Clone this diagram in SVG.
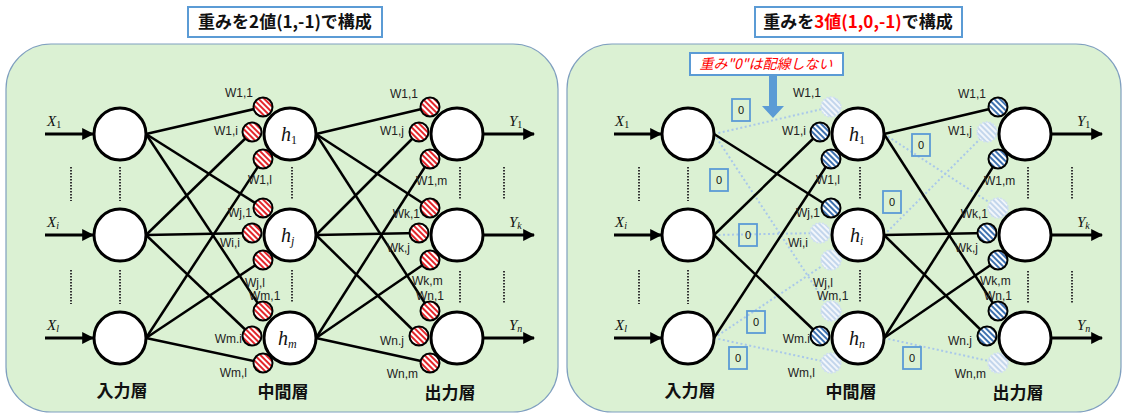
<svg xmlns="http://www.w3.org/2000/svg" width="1126" height="415" viewBox="0 0 1126 415">
<defs>
<pattern id="red" patternUnits="userSpaceOnUse" width="4" height="4" patternTransform="rotate(-45)"><rect width="4" height="4" fill="#fff"/><rect width="2" height="4" fill="#e3262b"/></pattern>
<pattern id="blue" patternUnits="userSpaceOnUse" width="4" height="4" patternTransform="rotate(-45)"><rect width="4" height="4" fill="#fff"/><rect width="2" height="4" fill="#3f72b0"/></pattern>
<pattern id="fade" patternUnits="userSpaceOnUse" width="4" height="4" patternTransform="rotate(-45)"><rect width="4" height="4" fill="#f2f6fb"/><rect width="2" height="4" fill="#c3d6ec"/></pattern>
<marker id="ah" viewBox="0 0 10 10" refX="9" refY="5" markerWidth="4" markerHeight="4" orient="auto" markerUnits="strokeWidth"><path d="M0,0 L10,5 L0,10 z" fill="#000"/></marker>
</defs>
<style>
.panel{fill:#dbf1d3;stroke:#7f9fbf;stroke-width:1.2}
.node{fill:#fff;stroke:#000;stroke-width:3}
.wr{fill:url(#red);stroke:#000;stroke-width:2}
.wb{fill:url(#blue);stroke:#000;stroke-width:2}
.wf{fill:url(#fade);stroke:#d0e0f2;stroke-width:1.5;stroke-dasharray:2 1.5}
.ln{stroke:#000;stroke-width:2.5;fill:none}
.zl{stroke:#a9c8ea;stroke-width:2;stroke-dasharray:2 2.5;fill:none}
.arr{stroke:#000;stroke-width:3;fill:none;marker-end:url(#ah)}
.dot{stroke:#333;stroke-width:2;stroke-dasharray:1.5 1.5}
.w{font-family:"Liberation Sans","Noto Sans",sans-serif;font-size:12px;fill:#222}
.m{font-family:"Liberation Serif",serif;font-style:italic;font-size:15px;fill:#111}
.h{font-family:"Liberation Serif",serif;font-style:italic;font-size:20px;fill:#111}
.up{font-style:normal}
.t{font-family:"Noto Sans CJK JP",sans-serif;font-weight:bold;font-size:17px;fill:#111}
.lay{font-family:"Noto Sans CJK JP",sans-serif;font-weight:bold;font-size:17px;fill:#111;text-anchor:middle}
.box{fill:#fff;stroke:#5b9bd5;stroke-width:2}
.zb{fill:none;stroke:#5b9bd5;stroke-width:1.8}
.z{font-family:"Liberation Sans",sans-serif;font-size:11px;fill:#111;text-anchor:middle}
</style>

<g id="titles">
<rect class="box" x="188" y="7" width="194" height="30"/>
<text class="t" x="285" y="28" text-anchor="middle">重みを2値(1,-1)で構成</text>
<rect class="box" x="755" y="7" width="207" height="30"/>
<text class="t" x="858" y="28" text-anchor="middle">重みを<tspan fill="#ff0000">3値(1,0,-1)</tspan>で構成</text>
</g>

<g id="panels">
<rect class="panel" x="6" y="44" width="552" height="368" rx="45"/>
<rect class="panel" x="567" y="44" width="554" height="368" rx="45"/>
</g>

<g id="connectors">
<line class="ln" x1="146" y1="134" x2="263" y2="107"/>
<line class="ln" x1="146" y1="134" x2="263" y2="208"/>
<line class="ln" x1="146" y1="134" x2="263" y2="311"/>
<line class="ln" x1="146" y1="235" x2="252" y2="132"/>
<line class="ln" x1="146" y1="235" x2="252" y2="233"/>
<line class="ln" x1="146" y1="235" x2="252" y2="336"/>
<line class="ln" x1="146" y1="338" x2="263" y2="159"/>
<line class="ln" x1="146" y1="338" x2="263" y2="260"/>
<line class="ln" x1="146" y1="338" x2="263" y2="363"/>
<line class="ln" x1="316" y1="134" x2="430" y2="107"/>
<line class="ln" x1="316" y1="134" x2="430" y2="208"/>
<line class="ln" x1="316" y1="134" x2="430" y2="311"/>
<line class="ln" x1="316" y1="235" x2="419" y2="132"/>
<line class="ln" x1="316" y1="235" x2="419" y2="233"/>
<line class="ln" x1="316" y1="235" x2="419" y2="336"/>
<line class="ln" x1="316" y1="338" x2="430" y2="159"/>
<line class="ln" x1="316" y1="338" x2="430" y2="260"/>
<line class="ln" x1="316" y1="338" x2="430" y2="363"/>
<line class="zl" x1="714" y1="134" x2="831" y2="107"/>
<line class="zl" x1="714" y1="134" x2="831" y2="311"/>
<line class="zl" x1="714" y1="235" x2="820" y2="233"/>
<line class="zl" x1="714" y1="338" x2="831" y2="260"/>
<line class="zl" x1="714" y1="338" x2="831" y2="363"/>
<line class="zl" x1="884" y1="134" x2="998" y2="208"/>
<line class="zl" x1="884" y1="235" x2="987" y2="132"/>
<line class="zl" x1="884" y1="338" x2="998" y2="363"/>
<line class="ln" x1="714" y1="134" x2="831" y2="208"/>
<line class="ln" x1="714" y1="235" x2="820" y2="132"/>
<line class="ln" x1="714" y1="235" x2="820" y2="336"/>
<line class="ln" x1="714" y1="338" x2="831" y2="159"/>
<line class="ln" x1="884" y1="134" x2="998" y2="107"/>
<line class="ln" x1="884" y1="134" x2="998" y2="311"/>
<line class="ln" x1="884" y1="235" x2="987" y2="233"/>
<line class="ln" x1="884" y1="235" x2="987" y2="336"/>
<line class="ln" x1="884" y1="338" x2="998" y2="159"/>
<line class="ln" x1="884" y1="338" x2="998" y2="260"/>
<line class="arr" x1="45" y1="134" x2="93" y2="134"/>
<line class="arr" x1="45" y1="235" x2="93" y2="235"/>
<line class="arr" x1="45" y1="338" x2="93" y2="338"/>
<line class="arr" x1="483" y1="134" x2="534" y2="134"/>
<line class="arr" x1="483" y1="235" x2="534" y2="235"/>
<line class="arr" x1="483" y1="338" x2="534" y2="338"/>
<line class="arr" x1="614" y1="134" x2="661" y2="134"/>
<line class="arr" x1="614" y1="235" x2="661" y2="235"/>
<line class="arr" x1="614" y1="338" x2="661" y2="338"/>
<line class="arr" x1="1051" y1="134" x2="1102" y2="134"/>
<line class="arr" x1="1051" y1="235" x2="1102" y2="235"/>
<line class="arr" x1="1051" y1="338" x2="1102" y2="338"/>
</g>

<g id="ellipsis">
<line class="dot" x1="71" y1="167" x2="71" y2="201"/><line class="dot" x1="120" y1="167" x2="120" y2="201"/>
<line class="dot" x1="71" y1="270" x2="71" y2="304"/><line class="dot" x1="120" y1="270" x2="120" y2="304"/>
<line class="dot" x1="292" y1="167" x2="292" y2="199"/><line class="dot" x1="292" y1="270" x2="292" y2="302"/>
<line class="dot" x1="460" y1="167" x2="460" y2="199"/><line class="dot" x1="504" y1="167" x2="504" y2="199"/>
<line class="dot" x1="460" y1="271" x2="460" y2="303"/><line class="dot" x1="504" y1="271" x2="504" y2="303"/>
<line class="dot" x1="639" y1="167" x2="639" y2="201"/><line class="dot" x1="688" y1="167" x2="688" y2="201"/>
<line class="dot" x1="639" y1="270" x2="639" y2="304"/><line class="dot" x1="688" y1="270" x2="688" y2="304"/>
<line class="dot" x1="860" y1="167" x2="860" y2="199"/><line class="dot" x1="860" y1="270" x2="860" y2="302"/>
<line class="dot" x1="1028" y1="167" x2="1028" y2="199"/><line class="dot" x1="1072" y1="167" x2="1072" y2="199"/>
<line class="dot" x1="1028" y1="271" x2="1028" y2="303"/><line class="dot" x1="1072" y1="271" x2="1072" y2="303"/>
</g>

<g id="L-x1"><circle class="node" cx="120" cy="134" r="26"/><text class="m" x="47" y="126">X<tspan class="up" font-size="10" dy="2">1</tspan></text></g>
<g id="L-xi"><circle class="node" cx="120" cy="235" r="26"/><text class="m" x="47" y="227">X<tspan font-size="10" dy="2">i</tspan></text></g>
<g id="L-xl"><circle class="node" cx="120" cy="338" r="26"/><text class="m" x="47" y="330">X<tspan font-size="10" dy="2">l</tspan></text></g>

<g id="L-h1">
<circle class="wr" cx="263" cy="107" r="9.5"/><circle class="wr" cx="252" cy="132" r="9.5"/><circle class="wr" cx="263" cy="159" r="9.5"/>
<circle class="node" cx="290" cy="134" r="26"/>
<text class="h" x="281" y="141">h<tspan class="up" font-size="12" dy="3">1</tspan></text>
<text class="w" x="253" y="97" text-anchor="end">W1,1</text>
<text class="w" x="238" y="135" text-anchor="end">W1,i</text>
<text class="w" x="248" y="184">W1,l</text>
</g>
<g id="L-hj">
<circle class="wr" cx="263" cy="208" r="9.5"/><circle class="wr" cx="252" cy="233" r="9.5"/><circle class="wr" cx="263" cy="260" r="9.5"/>
<circle class="node" cx="290" cy="235" r="26"/>
<text class="h" x="281" y="242">h<tspan font-size="12" dy="3">j</tspan></text>
<text class="w" x="252" y="217" text-anchor="end">Wj,1</text>
<text class="w" x="240" y="247" text-anchor="end">Wi,i</text>
<text class="w" x="245" y="287">Wj,l</text>
</g>
<g id="L-hm">
<circle class="wr" cx="263" cy="311" r="9.5"/><circle class="wr" cx="252" cy="336" r="9.5"/><circle class="wr" cx="263" cy="363" r="9.5"/>
<circle class="node" cx="290" cy="338" r="26"/>
<text class="h" x="278" y="345">h<tspan font-size="12" dy="3">m</tspan></text>
<text class="w" x="249" y="300">Wm,1</text>
<text class="w" x="242" y="343" text-anchor="end">Wm.i</text>
<text class="w" x="247" y="377" text-anchor="end">Wm,l</text>
</g>

<g id="L-y1">
<circle class="wr" cx="430" cy="107" r="9.5"/><circle class="wr" cx="419" cy="132" r="9.5"/><circle class="wr" cx="430" cy="159" r="9.5"/>
<circle class="node" cx="457" cy="134" r="26"/>
<text class="m" x="509" y="126">Y<tspan class="up" font-size="10" dy="2">1</tspan></text>
<text class="w" x="418" y="98" text-anchor="end">W1,1</text>
<text class="w" x="404" y="135" text-anchor="end">W1,j</text>
<text class="w" x="416" y="185">W1,m</text>
</g>
<g id="L-yk">
<circle class="wr" cx="430" cy="208" r="9.5"/><circle class="wr" cx="419" cy="233" r="9.5"/><circle class="wr" cx="430" cy="260" r="9.5"/>
<circle class="node" cx="457" cy="235" r="26"/>
<text class="m" x="509" y="227">Y<tspan font-size="10" dy="2">k</tspan></text>
<text class="w" x="420" y="218" text-anchor="end">Wk,1</text>
<text class="w" x="410" y="252" text-anchor="end">Wk,j</text>
<text class="w" x="412" y="285">Wk,m</text>
</g>
<g id="L-yn">
<circle class="wr" cx="430" cy="311" r="9.5"/><circle class="wr" cx="419" cy="336" r="9.5"/><circle class="wr" cx="430" cy="363" r="9.5"/>
<circle class="node" cx="457" cy="338" r="26"/>
<text class="m" x="509" y="330">Y<tspan font-size="10" dy="2">n</tspan></text>
<text class="w" x="416" y="300">Wn,1</text>
<text class="w" x="404" y="345" text-anchor="end">Wn.j</text>
<text class="w" x="418" y="378" text-anchor="end">Wn,m</text>
</g>

<g id="L-layers">
<text class="lay" x="122" y="397">入力層</text>
<text class="lay" x="283" y="398">中間層</text>
<text class="lay" x="450" y="399">出力層</text>
</g>

<g id="R-x1"><circle class="node" cx="688" cy="134" r="26"/><text class="m" x="615" y="126">X<tspan class="up" font-size="10" dy="2">1</tspan></text></g>
<g id="R-xi"><circle class="node" cx="688" cy="235" r="26"/><text class="m" x="615" y="227">X<tspan font-size="10" dy="2">i</tspan></text></g>
<g id="R-xl"><circle class="node" cx="688" cy="338" r="26"/><text class="m" x="615" y="330">X<tspan font-size="10" dy="2">l</tspan></text></g>

<g id="R-h1">
<circle class="wf" cx="831" cy="107" r="10"/><circle class="wb" cx="820" cy="132" r="9.5"/><circle class="wb" cx="831" cy="159" r="9.5"/>
<circle class="node" cx="858" cy="134" r="26"/>
<text class="h" x="849" y="141">h<tspan class="up" font-size="12" dy="3">1</tspan></text>
<text class="w" x="821" y="97" text-anchor="end">W1,1</text>
<text class="w" x="806" y="135" text-anchor="end">W1,i</text>
<text class="w" x="816" y="184">W1,l</text>
</g>
<g id="R-hi">
<circle class="wb" cx="831" cy="208" r="9.5"/><circle class="wf" cx="820" cy="233" r="10"/><circle class="wf" cx="831" cy="260" r="10"/>
<circle class="node" cx="858" cy="235" r="26"/>
<text class="h" x="850" y="242">h<tspan font-size="12" dy="3">i</tspan></text>
<text class="w" x="820" y="217" text-anchor="end">Wj,1</text>
<text class="w" x="808" y="247" text-anchor="end">Wi,i</text>
<text class="w" x="813" y="287">Wj,l</text>
</g>
<g id="R-hn">
<circle class="wf" cx="831" cy="311" r="10"/><circle class="wb" cx="820" cy="336" r="9.5"/><circle class="wf" cx="831" cy="363" r="10"/>
<circle class="node" cx="858" cy="338" r="26"/>
<text class="h" x="849" y="345">h<tspan font-size="12" dy="3">n</tspan></text>
<text class="w" x="817" y="300">Wm,1</text>
<text class="w" x="810" y="343" text-anchor="end">Wm.i</text>
<text class="w" x="815" y="377" text-anchor="end">Wm,l</text>
</g>

<g id="R-y1">
<circle class="wb" cx="998" cy="107" r="9.5"/><circle class="wf" cx="987" cy="132" r="10"/><circle class="wb" cx="998" cy="159" r="9.5"/>
<circle class="node" cx="1025" cy="134" r="26"/>
<text class="m" x="1077" y="126">Y<tspan class="up" font-size="10" dy="2">1</tspan></text>
<text class="w" x="986" y="98" text-anchor="end">W1,1</text>
<text class="w" x="972" y="135" text-anchor="end">W1,j</text>
<text class="w" x="984" y="185">W1,m</text>
</g>
<g id="R-yk">
<circle class="wf" cx="998" cy="208" r="10"/><circle class="wb" cx="987" cy="233" r="9.5"/><circle class="wb" cx="998" cy="260" r="9.5"/>
<circle class="node" cx="1025" cy="235" r="26"/>
<text class="m" x="1077" y="227">Y<tspan font-size="10" dy="2">k</tspan></text>
<text class="w" x="988" y="218" text-anchor="end">Wk,1</text>
<text class="w" x="978" y="252" text-anchor="end">Wk,j</text>
<text class="w" x="980" y="285">Wk,m</text>
</g>
<g id="R-yn">
<circle class="wb" cx="998" cy="311" r="9.5"/><circle class="wb" cx="987" cy="336" r="9.5"/><circle class="wf" cx="998" cy="363" r="10"/>
<circle class="node" cx="1025" cy="338" r="26"/>
<text class="m" x="1077" y="330">Y<tspan font-size="10" dy="2">n</tspan></text>
<text class="w" x="984" y="300">Wn,1</text>
<text class="w" x="972" y="345" text-anchor="end">Wn.j</text>
<text class="w" x="986" y="378" text-anchor="end">Wn,m</text>
</g>

<g id="R-layers">
<text class="lay" x="690" y="397">入力層</text>
<text class="lay" x="851" y="398">中間層</text>
<text class="lay" x="1018" y="399">出力層</text>
</g>

<g id="zeros">
<rect class="zb" x="732" y="99" width="18" height="22"/><text class="z" x="741" y="114">0</text>
<rect class="zb" x="710" y="169" width="18" height="22"/><text class="z" x="719" y="184">0</text>
<rect class="zb" x="739" y="224" width="18" height="22"/><text class="z" x="748" y="239">0</text>
<rect class="zb" x="747" y="311" width="18" height="22"/><text class="z" x="756" y="326">0</text>
<rect class="zb" x="729" y="347" width="18" height="22"/><text class="z" x="738" y="362">0</text>
<rect class="zb" x="912" y="134" width="18" height="22"/><text class="z" x="921" y="149">0</text>
<rect class="zb" x="883" y="191" width="18" height="22"/><text class="z" x="892" y="206">0</text>
<rect class="zb" x="903" y="347" width="18" height="22"/><text class="z" x="912" y="362">0</text>
</g>

<g id="callout">
<rect class="box" x="690" y="53" width="153" height="22"/>
<text x="766" y="69" text-anchor="middle" font-family="Noto Sans CJK JP, sans-serif" font-style="italic" font-size="14" fill="#ff0000">重み"0"は配線しない</text>
<path d="M769,76 H777 V106 H784 L773,118 L762,106 H769 Z" fill="#5b9bd5"/>
</g>
</svg>
